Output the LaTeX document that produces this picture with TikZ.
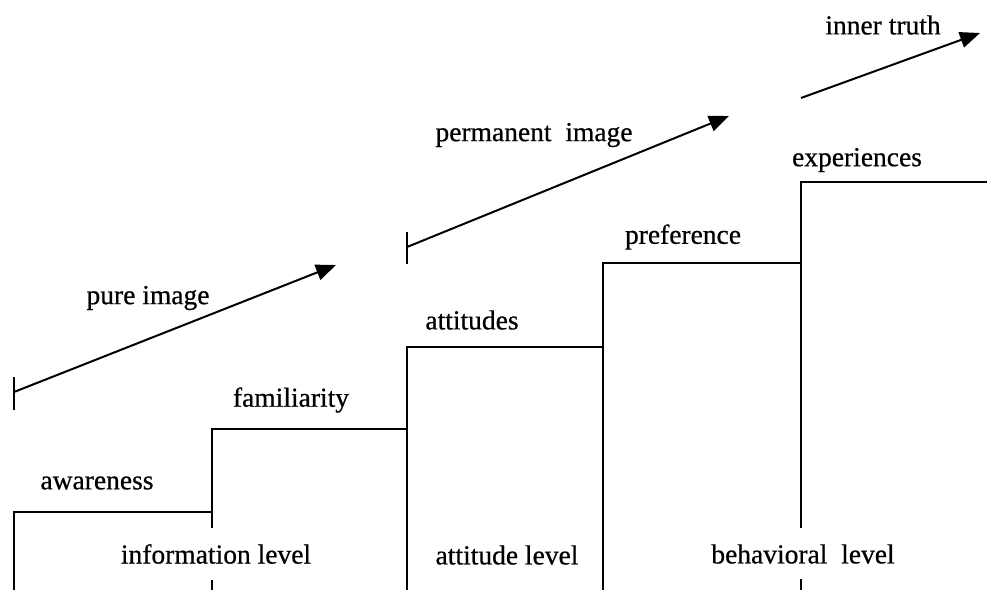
\documentclass[tikz,border=0pt]{standalone}
\usepackage{fontspec}
\setmainfont{Liberation Serif}
\newfontfamily\lblfont{Liberation Serif}[FakeBold=0.6]
\usetikzlibrary{arrows.meta}
\begin{document}
\begin{tikzpicture}[x=1pt,y=-1pt,
  stepline/.style={line width=2pt},
  growarrow/.style={line width=2pt,-{Triangle[length=20pt,width=16pt]}},
  lbl/.style={font=\lblfont\fontsize{27.5}{32}\selectfont,inner sep=0pt}]
\useasboundingbox (0,0) rectangle (987,590);
% steps
\draw[stepline] (14,590) -- (14,512) -- (212,512);
\draw[stepline] (212,528) -- (212,429) -- (407,429);
\draw[stepline] (212,580) -- (212,590);
\draw[stepline] (407,590) -- (407,347) -- (603,347);
\draw[stepline] (603,590) -- (603,263) -- (801,263);
\draw[stepline] (801,528) -- (801,182) -- (987,182);
\draw[stepline] (801,579) -- (801,590);
% arrows
\coordinate (a1s) at (14,392);
\coordinate (a1e) at (336,265);
\coordinate (a2s) at (407,247);
\coordinate (a2e) at (729,116);
\coordinate (a3s) at (801,98);
\coordinate (a3e) at (980,33);
\draw[stepline] (14,377) -- (14,410);
\draw[stepline] (407,232) -- (407,264);
\draw[growarrow] (a1s) -- (a1e);
\draw[growarrow] (a2s) -- (a2e);
\draw[growarrow] (a3s) -- (a3e);
% labels
\node[lbl] (l1) at (97,483) {awareness};
\node[lbl] (l2) at (291,400) {familiarity};
\node[lbl] (l3) at (472,320) {attitudes};
\node[lbl] (l4) at (683,237) {preference};
\node[lbl] (l5) at (857,160) {experiences};
\node[lbl] (l6) at (148,298) {pure image};
\node[lbl] (l7) at (534,135) {permanent\ \ image};
\node[lbl] (l8) at (883,25) {inner truth};
\node[lbl] (l9) at (216,554) {information level};
\node[lbl] (l10) at (507,555) {attitude level};
\node[lbl] (l11) at (803,554) {behavioral\ \ level};
\end{tikzpicture}
\end{document}
